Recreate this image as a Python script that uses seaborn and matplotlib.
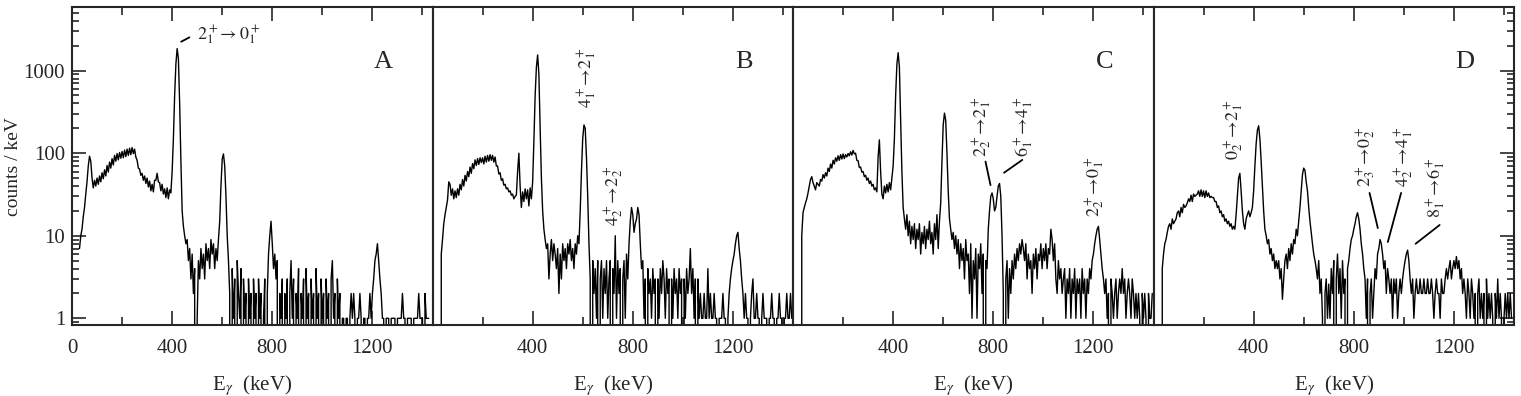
import numpy as np
import pandas as pd
import matplotlib
matplotlib.use("Agg")
import matplotlib.pyplot as plt
from matplotlib.ticker import FixedLocator, LogLocator, NullFormatter
import seaborn as sns

nan = np.nan

# gamma energy grid (keV), 5 keV bins
energy = np.arange(0, 1440, 5)

# counts / keV, one row = 100 keV
counts_A = [
    nan, nan, nan, nan, nan, nan, 7, 10, 12, 17, 22, 32, 45, 70, 92, 80, 50, 38, 47, 40,
    50, 42, 53, 45, 58, 49, 63, 53, 71, 59, 78, 66, 86, 72, 94, 80, 99, 83, 102, 87,
    105, 88, 109, 91, 112, 94, 115, 96, 117, 99, 112, 90, 82, 66, 64, 54, 57, 47, 53, 43,
    50, 39, 46, 35, 42, 34, 47, 47, 57, 45, 44, 35, 42, 32, 37, 29, 38, 28, 36, 33,
    60, 150, 500, 1200, 1850, 1400, 400, 80, 20, 13, 10, 8, 9, 5, 7, 3, 6, 2, 4, 0,
    1, 5, 3, 7, 4, 6, 3, 8, 5, 7, 4, 9, 6, 8, 4, 7, 5, 9, 15, 40,
    85, 98, 70, 30, 10, 5, 2, 0, 4, 1, 3, 0, 5, 2, 1, 4, 0, 3, 1, 2,
    0, 3, 1, 2, 0, 3, 1, 2, 0, 3, 1, 2, 0, 1, 3, 0, 2, 6, 10, 15,
    8, 4, 6, 3, 5, 0, 2, 1, 3, 0, 2, 1, 3, 0, 2, 5, 1, 3, 0, 2,
    1, 4, 0, 2, 1, 3, 0, 4, 1, 2, 0, 3, 1, 2, 0, 4, 1, 2, 0, 3,
    1, 2, 0, 3, 1, 2, 0, 3, 5, 1, 2, 0, 3, 1, 2, 0, 1, 1, 0, 1,
    1, 0, 1, 2, 1, 2, 1, 0, 1, 1, 2, 1, 0, 1, 1, 0, 1, 1, 2, 1,
    2, 3, 5, 6, 8, 5, 3, 2, 1, 1, 0, 1, 1, 1, 0, 1, 1, 1, 1, 0,
    1, 1, 1, 1, 2, 1, 1, 0, 1, 1, 1, 1, 0, 1, 1, 1, 1, 2, 1, 1,
    1, 0, 2, 1, 1, 1, nan, nan,
]

counts_B = [
    nan, nan, nan, nan, nan, nan, 0, 6, 9, 14, 18, 22, 27, 45, 42, 31, 37, 28, 35, 29,
    37, 31, 42, 36, 48, 40, 54, 46, 60, 52, 68, 57, 75, 65, 83, 71, 86, 73, 88, 77,
    88, 74, 92, 78, 94, 80, 96, 82, 94, 78, 90, 70, 70, 56, 58, 47, 49, 41, 42, 37,
    38, 34, 35, 31, 32, 28, 30, 31, 60, 100, 40, 22, 34, 26, 37, 28, 36, 23, 38, 28,
    45, 140, 500, 1100, 1550, 900, 200, 50, 20, 12, 9, 7, 8, 3, 6, 9, 5, 8, 6, 4,
    7, 2, 6, 3, 8, 5, 7, 4, 8, 6, 9, 5, 7, 4, 8, 6, 10, 8, 20, 60,
    150, 220, 200, 90, 30, 8, 3, 0, 5, 2, 4, 1, 5, 0, 3, 5, 1, 4, 2, 5,
    1, 3, 5, 0, 4, 2, 10, 1, 5, 2, 4, 0, 3, 5, 1, 6, 3, 8, 15, 22,
    18, 11, 14, 16, 22, 18, 8, 4, 5, 1, 3, 0, 4, 2, 3, 1, 4, 2, 3, 0,
    3, 1, 4, 2, 5, 3, 1, 4, 2, 3, 0, 3, 1, 4, 2, 3, 1, 4, 2, 3,
    0, 3, 1, 4, 2, 3, 7, 2, 4, 1, 3, 0, 3, 1, 2, 1, 1, 2, 1, 1,
    4, 1, 2, 1, 1, 2, 1, 1, 0, 1, 1, 1, 2, 1, 1, 0, 1, 2, 3, 4,
    5, 6, 8, 10, 11, 7, 5, 3, 2, 1, 2, 1, 1, 0, 1, 2, 3, 1, 1, 2,
    1, 1, 0, 1, 2, 1, 1, 1, 0, 1, 1, 2, 1, 1, 0, 1, 1, 2, 1, 1,
    0, 1, 1, 2, 1, 1, 2, 1,
]

counts_C = [
    nan, nan, nan, nan, nan, nan, 0, 10, 19, 22, 25, 28, 33, 40, 48, 52, 44, 40, 36, 44,
    42, 40, 48, 46, 55, 50, 58, 53, 66, 60, 74, 66, 82, 74, 88, 80, 93, 82, 96, 85,
    98, 86, 96, 90, 99, 93, 104, 95, 108, 98, 100, 82, 81, 67, 68, 59, 60, 52, 54, 47,
    50, 43, 46, 40, 42, 36, 38, 34, 90, 145, 60, 32, 28, 40, 33, 42, 34, 44, 36, 50,
    70, 150, 500, 1200, 1650, 1100, 250, 60, 22, 16, 12, 18, 10, 15, 8, 13, 9, 14, 7, 12,
    9, 14, 6, 11, 8, 13, 7, 12, 9, 15, 8, 11, 6, 14, 9, 18, 7, 15, 25, 80,
    220, 306, 250, 100, 35, 16, 12, 9, 11, 7, 10, 6, 9, 4, 8, 5, 7, 3, 9, 5,
    6, 2, 8, 1, 5, 3, 7, 1, 6, 4, 8, 2, 6, 0, 5, 4, 12, 20, 30, 33,
    28, 20, 22, 30, 40, 43, 30, 10, 2, 0, 3, 5, 1, 4, 2, 5, 3, 6, 4, 7,
    5, 8, 6, 9, 7, 5, 8, 3, 6, 4, 5, 2, 6, 4, 7, 3, 6, 5, 8, 4,
    7, 5, 8, 4, 7, 6, 12, 9, 5, 8, 3, 2, 5, 3, 4, 2, 3, 4, 1, 3,
    2, 4, 1, 3, 2, 4, 1, 3, 2, 3, 1, 4, 2, 3, 1, 3, 2, 4, 3, 5,
    6, 8, 10, 12, 13, 9, 6, 4, 3, 2, 3, 1, 2, 0, 3, 2, 1, 2, 3, 1,
    2, 3, 2, 4, 2, 3, 1, 2, 3, 2, 1, 3, 2, 1, 2, 1, 2, 1, 0, 2,
    1, 2, 1, 0, 2, 1, 1, 2,
]

counts_D = [
    nan, nan, nan, nan, nan, nan, 0, 4, 6, 8, 9, 11, 13, 14, 12, 16, 14, 15, 16, 19,
    20, 17, 22, 19, 24, 22, 23, 25, 28, 26, 31, 26, 32, 30, 31, 32, 35, 30, 36, 30,
    35, 29, 35, 30, 33, 29, 30, 29, 29, 26, 26, 22, 23, 19, 20, 17, 18, 15, 16, 14,
    15, 13, 14, 12, 13, 12, 18, 30, 50, 57, 35, 20, 14, 12, 16, 18, 20, 17, 19, 22,
    35, 70, 130, 190, 215, 150, 80, 40, 20, 12, 10, 8, 9, 6, 7, 5, 6, 4, 5, 4,
    5, 3, 4, 1.7, 3, 5, 6, 4, 7, 5, 8, 6, 9, 8, 12, 10, 15, 22, 35, 55,
    66, 62, 45, 35, 22, 15, 11, 8, 6, 5, 4, 3, 5, 2, 3, 1, 0, 2, 3, 1,
    2.6, 1, 4, 2, 5, 0, 3, 6, 2, 4, 1, 5, 2, 3, 0, 4, 5, 7, 9, 10,
    12, 14, 17, 19, 16, 12, 8, 6, 4, 3, 1, 3, 0, 2, 3, 1, 2, 4, 3, 6,
    7, 9, 8, 6, 4, 5, 2, 4, 3, 2, 3, 1, 3, 2, 3, 1, 2, 3, 2, 3,
    4, 5, 6, 6.7, 5, 3, 2, 3, 1, 2, 3, 2, 2, 3, 2, 2, 3, 2, 2, 3,
    2, 2, 3, 2, 1, 2, 3, 2, 2, 1, 3, 2, 2, 3, 4, 3, 4, 5, 3, 4,
    5, 4, 5.6, 4, 5, 3, 4, 2, 3, 2, 1, 3, 2, 1, 3, 2, 1, 2, 0, 2,
    3, 1, 2, 1, 2, 0, 3, 1, 2, 1, 2, 1, 0, 2, 1, 3, 1, 2, 1, 0,
    1, 2, 1, 2, 1, 2, 1, nan,
]

panel_names = ["A", "B", "C", "D"]
spectra = [counts_A, counts_B, counts_C, counts_D]

sns.set_style("ticks")
plt.rcParams["font.family"] = ["Liberation Serif", "DejaVu Serif"]
plt.rcParams["mathtext.fontset"] = "stix"
plt.rcParams["path.simplify"] = False

fig = plt.figure(figsize=(15.21, 3.96), dpi=100)
left, width = 72 / 1521, 360.5 / 1521
bottom, height = 71 / 396, 318 / 396
axes = [fig.add_axes([left + i * width, bottom, width, height]) for i in range(4)]

fs_tick = 15
for i, (ax, name, counts) in enumerate(zip(axes, panel_names, spectra)):
    df = pd.DataFrame({"energy": energy, "counts": counts})
    sns.lineplot(data=df, x="energy", y="counts", ax=ax, color="black",
                 linewidth=1.0, estimator=None)
    ax.set_yscale("log", nonpositive="clip")
    ax.set_xlim(0, 1440)
    ax.set_ylim(0.83, 5900)

    # x ticks
    ax.xaxis.set_major_locator(FixedLocator([0, 400, 800, 1200] if i == 0 else [400, 800, 1200]))
    ax.xaxis.set_minor_locator(FixedLocator([200, 600, 1000, 1400]))
    ax.tick_params(axis="x", which="both", direction="in", top=True, bottom=True,
                   labelsize=fs_tick, pad=10, width=1.2)
    ax.tick_params(axis="x", which="major", length=10)
    ax.tick_params(axis="x", which="minor", length=6)
    ax.set_xlabel(r"E$_\gamma$  (keV)", fontsize=fs_tick, labelpad=11)

    # y ticks only on the outer edges
    ax.yaxis.set_major_locator(FixedLocator([1, 10, 100, 1000]))
    ax.yaxis.set_minor_locator(LogLocator(base=10, subs=range(2, 10)))
    ax.yaxis.set_minor_formatter(NullFormatter())
    if i == 0:
        ax.set_yticklabels(["1", "10", "100", "1000"])
        ax.tick_params(axis="y", which="both", direction="in", left=True, right=False,
                       labelsize=fs_tick, width=1.2, pad=5)
        ax.set_ylabel("counts / keV", fontsize=14)
        ax.yaxis.set_label_coords(-0.14, 0.5)
    elif i == 3:
        ax.tick_params(axis="y", which="both", direction="in", left=False, right=True,
                       labelleft=False, labelright=False, width=1.2)
        ax.set_ylabel("")
    else:
        ax.tick_params(axis="y", which="both", left=False, right=False, labelleft=False)
        ax.set_ylabel("")
    ax.tick_params(axis="y", which="major", length=10)
    ax.tick_params(axis="y", which="minor", length=5)

    for sp in ax.spines.values():
        sp.set_visible(True)
        sp.set_linewidth(1.5)

    ax.text(1244, 1280, name, fontsize=19, ha="center", va="center")

# transition labels
fs = 13
a, b, c, d = axes
a.text(500, 2700, r"$2^+_1\!\rightarrow 0^+_1$", fontsize=fs, ha="left", va="center")
a.plot([436, 469], [2240, 2530], color="black", lw=1.3)

b.text(620, 820, r"$4^+_1\!\rightarrow\!2^+_1$", fontsize=fs, rotation=90, ha="center", va="center")
b.text(724, 31, r"$4^+_2\!\rightarrow\!2^+_2$", fontsize=fs, rotation=90, ha="center", va="center")

c.text(756, 210, r"$2^+_2\!\rightarrow\!2^+_1$", fontsize=fs, rotation=90, ha="center", va="center")
c.plot([769, 789], [79, 41], color="black", lw=1.3)
c.text(923, 210, r"$6^+_1\!\rightarrow\!4^+_1$", fontsize=fs, rotation=90, ha="center", va="center")
c.plot([843, 916], [58, 83], color="black", lw=1.3)
c.text(1209, 39, r"$2^+_2\!\rightarrow\!0^+_1$", fontsize=fs, rotation=90, ha="center", va="center")

d.text(323, 196, r"$0^+_2\!\rightarrow\!2^+_1$", fontsize=fs, rotation=90, ha="center", va="center")
d.text(849, 90, r"$2^+_3\!\rightarrow\!0^+_2$", fontsize=fs, rotation=90, ha="center", va="center")
d.plot([863, 896], [33, 12.4], color="black", lw=1.3)
d.text(1000, 90, r"$4^+_2\!\rightarrow\!4^+_1$", fontsize=fs, rotation=90, ha="center", va="center")
d.plot([989, 936], [33, 8.4], color="black", lw=1.3)
d.text(1129, 38, r"$8^+_1\!\rightarrow\!6^+_1$", fontsize=fs, rotation=90, ha="center", va="center")
d.plot([1143, 1047], [13.5, 8], color="black", lw=1.3)

fig.savefig("out.png", dpi=100)
